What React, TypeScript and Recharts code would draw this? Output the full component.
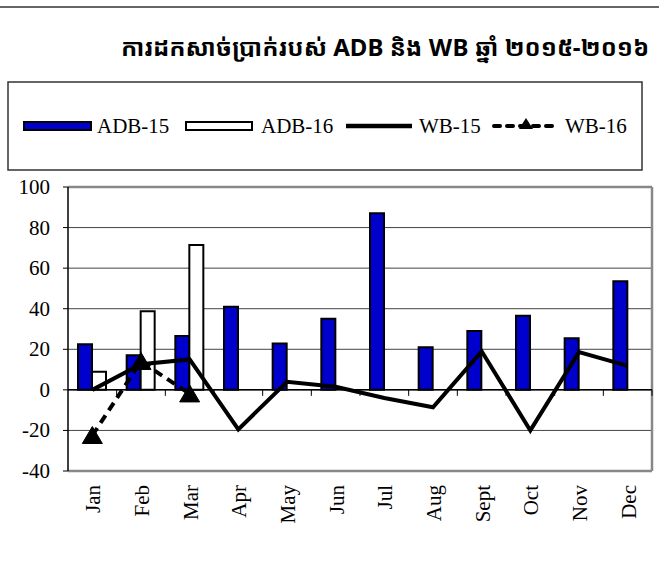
import React from "react";
import {
  ComposedChart,
  Bar,
  Line,
  XAxis,
  YAxis,
  CartesianGrid,
  ReferenceLine,
} from "recharts";

const months = ["Jan", "Feb", "Mar", "Apr", "May", "Jun", "Jul", "Aug", "Sept", "Oct", "Nov", "Dec"];
const adb15 = [22.5, 17, 26.5, 41, 22.8, 35, 87, 21, 29, 36.5, 25.5, 53.5];
const adb16: (number | null)[] = [8.9, 38.8, 71.4, null, null, null, null, null, null, null, null, null];
const wb15 = [0, 12.6, 15, -19.5, 4, 1.5, -4, -8.6, 19, -20, 18.6, 11.8];
const wb16: (number | null)[] = [-22.5, 14, -2, null, null, null, null, null, null, null, null, null];
const yTicks = [-40, -20, 0, 20, 40, 60, 80, 100];

const data = months.map((m, i) => ({
  month: m,
  adb15: adb15[i],
  adb16: adb16[i],
  wb15: wb15[i],
  wb16: wb16[i],
}));

const SERIF = '"Liberation Serif", "Times New Roman", serif';
const BLUE = "#0000CC";
const FS = 21;
const CHART_W = 659;
const CHART_H = 570;
const M_TOP = 187;
const X_AXIS_H = 99;
const PLOT_H = CHART_H - M_TOP - X_AXIS_H;

const renderXTick = (props: any) => {
  const { x, payload } = props;
  const yy = 485;
  return (
    <text
      x={x + 1}
      y={yy}
      transform={`rotate(-90, ${x + 1}, ${yy})`}
      textAnchor="end"
      dominantBaseline="central"
      fontFamily={SERIF}
      fontSize={FS}
      style={{ fontFamily: SERIF, fontSize: FS }}
      fill="#000"
    >
      {payload.value}
    </text>
  );
};

const renderYTick = (props: any) => {
  const { x, y, payload } = props;
  return (
    <text
      x={x}
      y={y}
      textAnchor="end"
      dominantBaseline="central"
      fontFamily={SERIF}
      fontSize={FS}
      style={{ fontFamily: SERIF, fontSize: FS }}
      fill="#000"
    >
      {payload.value}
    </text>
  );
};

const Triangle = (props: any) => {
  const { cx, cy } = props;
  if (cx == null || cy == null || props.value == null) return null;
  return (
    <polygon
      points={`${cx},${cy - 9} ${cx - 10},${cy + 8} ${cx + 10},${cy + 8}`}
      fill="#000"
      stroke="#000"
    />
  );
};

// zero axis line with tick marks at category boundaries
const ZeroAxis = (props: any) => {
  const { x1, x2, y1 } = props;
  if (x1 == null) return null;
  const n = months.length;
  const step = (x2 - x1) / n;
  const ticks = [];
  for (let k = 1; k <= n; k++) {
    const x = x1 + k * step;
    ticks.push(<line key={k} x1={x} y1={y1} x2={x} y2={y1 + 6} stroke="#000" strokeWidth={1} />);
  }
  return (
    <g>
      <line x1={x1} y1={y1} x2={x2} y2={y1} stroke="#000" strokeWidth={1.5} />
      {ticks}
    </g>
  );
};

// top border of the plot plus the right border
const TopFrame = (props: any) => {
  const { x1, x2, y1 } = props;
  if (x1 == null) return null;
  return (
    <g>
      <line x1={x1} y1={y1} x2={x2} y2={y1} stroke="#888" strokeWidth={2.5} />
      <line x1={x2} y1={y1} x2={x2} y2={y1 + PLOT_H} stroke="#888" strokeWidth={2.5} />
    </g>
  );
};

const tStyle = { fontFamily: SERIF, fontSize: FS };

const LegendBox = () => (
  <svg width={636} height={90} style={{ position: "absolute", left: 7, top: 81 }}>
    <rect x={1} y={1} width={634} height={88} fill="#fff" stroke="#333" strokeWidth={1.5} />
    <rect x={17} y={41} width={67} height={8} fill={BLUE} stroke="#000" strokeWidth={2} />
    <text x={90} y={45} dominantBaseline="central" style={tStyle}>ADB-15</text>
    <rect x={179} y={41} width={66} height={8} fill="#fff" stroke="#000" strokeWidth={2} />
    <text x={254} y={45} dominantBaseline="central" style={tStyle}>ADB-16</text>
    <line x1={339} y1={45} x2={405} y2={45} stroke="#000" strokeWidth={4.5} />
    <text x={412} y={45} dominantBaseline="central" style={tStyle}>WB-15</text>
    <line x1={487} y1={45} x2={552} y2={45} stroke="#000" strokeWidth={4} strokeDasharray="6 7" strokeLinecap="round" />
    <polygon points="519,37 512,48 526,48" fill="#000" />
    <text x={558} y={45} dominantBaseline="central" style={tStyle}>WB-16</text>
  </svg>
);

export default function App() {
  return (
    <div
      style={{
        position: "absolute",
        left: 0,
        top: 0,
        width: CHART_W,
        height: CHART_H,
        background: "#fff",
        fontFamily: SERIF,
        fontSize: FS,
      }}
    >
      <div style={{ position: "absolute", left: 0, top: 6, width: CHART_W, height: 2, background: "#666" }} />
      <div
        style={{
          position: "absolute",
          left: 120,
          width: 530,
          top: 29,
          textAlign: "center",
          fontFamily: '"Noto Sans Khmer", "Khmer OS", "Noto Sans", sans-serif',
          fontWeight: "bold",
          fontSize: 24,
          lineHeight: "36px",
        }}
      >
        ការដកសាច់ប្រាក់របស់ ADB និង WB ឆ្នាំ ២០១៥-២០១៦
      </div>
      <LegendBox />
      <div style={{ position: "absolute", left: 0, top: 0 }}>
        <ComposedChart
          width={CHART_W}
          height={CHART_H}
          data={data}
          margin={{ top: M_TOP, right: 7, bottom: 0, left: 0 }}
          barGap={0}
          barSize={14}
          style={{ fontFamily: SERIF, fontSize: FS }}
        >
          <CartesianGrid vertical={false} stroke="#444" strokeWidth={1} />
          <XAxis
            dataKey="month"
            type="category"
            axisLine={false}
            tickLine={false}
            interval={0}
            height={X_AXIS_H}
            tick={renderXTick}
          />
          <YAxis
            type="number"
            domain={[-40, 100]}
            ticks={yTicks}
            interval={0}
            width={68}
            axisLine={{ stroke: "#000", strokeWidth: 1.5 }}
            tickLine={{ stroke: "#000" }}
            tickSize={5}
            tickMargin={13}
            tick={renderYTick}
          />
          <ReferenceLine y={100} shape={TopFrame} />
          <ReferenceLine y={-40} stroke="#888" strokeWidth={2.5} />
          <ReferenceLine y={0} shape={ZeroAxis} />
          <Bar dataKey="adb15" fill={BLUE} stroke="#000" strokeWidth={2} isAnimationActive={false} />
          <Bar dataKey="adb16" fill="#fff" stroke="#000" strokeWidth={2} isAnimationActive={false} />
          <Line
            dataKey="wb15"
            type="linear"
            stroke="#000"
            strokeWidth={4}
            dot={false}
            activeDot={false}
            isAnimationActive={false}
          />
          <Line
            dataKey="wb16"
            type="linear"
            stroke="#000"
            strokeWidth={4}
            strokeDasharray="9 6"
            dot={<Triangle />}
            activeDot={false}
            isAnimationActive={false}
          />
        </ComposedChart>
      </div>
    </div>
  );
}
